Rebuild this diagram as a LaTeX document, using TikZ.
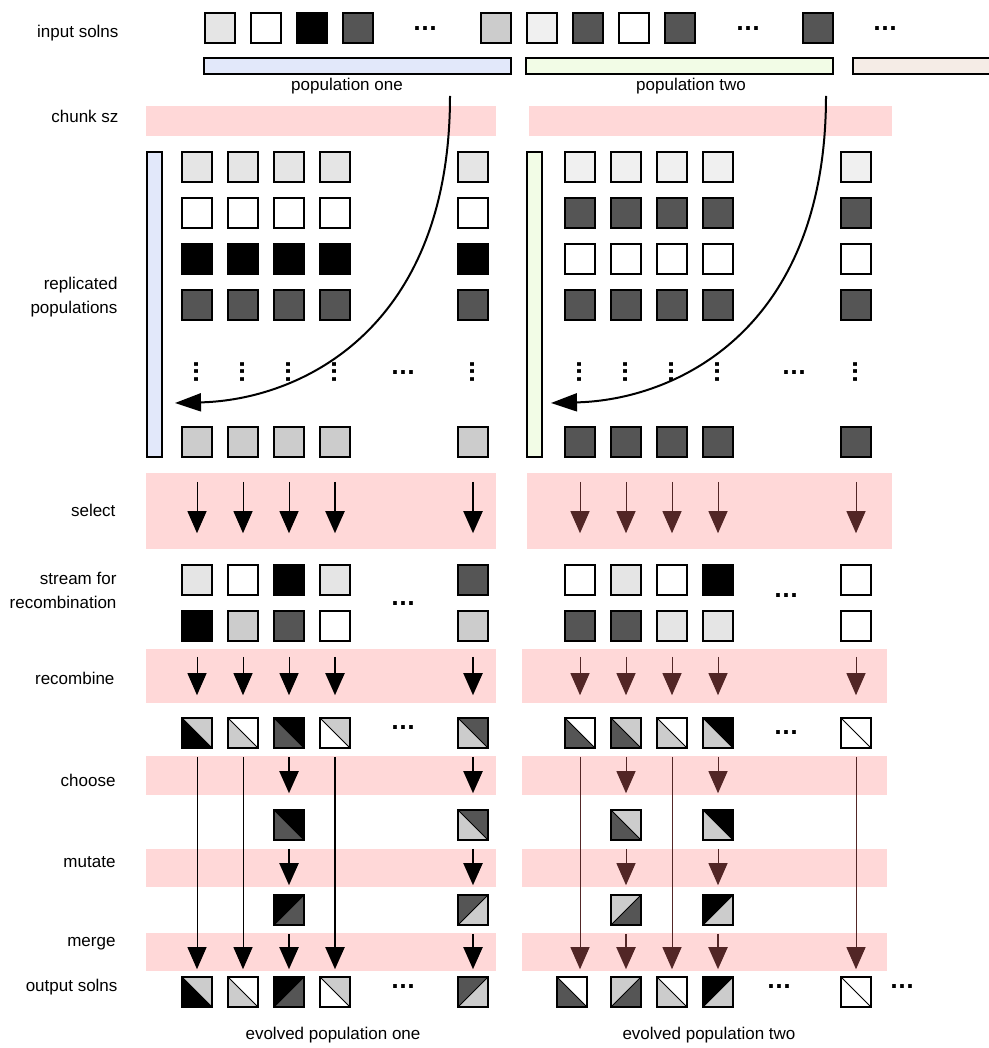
\documentclass[tikz,border=0pt]{standalone}
\usepackage{fontspec}
\setmainfont{Liberation Sans}
\newfontfamily\dotfont{DejaVu Sans}
\usetikzlibrary{arrows.meta}
\definecolor{bandpink}{RGB}{255,216,216}
\definecolor{popone}{RGB}{226,232,250}
\definecolor{poptwo}{RGB}{242,252,230}
\definecolor{popthree}{RGB}{245,236,230}
\definecolor{gA}{gray}{0.9}
\definecolor{gB}{gray}{0.8}
\definecolor{gC}{gray}{0.333}
\definecolor{gD}{gray}{0.94}
\definecolor{brn}{RGB}{82,38,38}

\begin{document}
\begin{tikzpicture}[x=1pt,y=-1pt,
  sq/.style={draw=black,line width=1.6pt,minimum size=30pt,inner sep=0pt},
  hb/.style 2 args={sq,fill=#2,path picture={
      \fill[#1] (path picture bounding box.north west) -- (path picture bounding box.south east)
        -- (path picture bounding box.south west) -- cycle;
      \draw[line width=1pt] (path picture bounding box.north west) -- (path picture bounding box.south east);}},
  hf/.style 2 args={sq,fill=#2,path picture={
      \fill[#1] (path picture bounding box.south west) -- (path picture bounding box.north east)
        -- (path picture bounding box.north west) -- cycle;
      \draw[line width=1pt] (path picture bounding box.south west) -- (path picture bounding box.north east);}},
  lab/.style={anchor=east,align=right,font=\fontsize{17}{24}\selectfont},
  txt/.style={font=\fontsize{17}{22}\selectfont},
  dots/.style={inner sep=0pt,font=\dotfont\bfseries\fontsize{21}{21}\selectfont},
  bar/.style={draw=black,line width=1.6pt},
  ar/.style={-{Triangle[width=19pt,length=22pt]},line width=1pt},
  arw/.style={ar,line width=2pt},
  arb/.style={ar,color=brn},
  cur/.style={-{Triangle[width=18pt,length=26pt]},line width=2pt}]
  \useasboundingbox (0,0) rectangle (988,1048);
  % pink bands behind each step
  \foreach \ya/\yb in {106/136,473/549,649/703,756/795,849/887,933/971}
    \fill[bandpink] (146,\ya) rectangle (496,\yb);
  \fill[bandpink] (529,106) rectangle (892,136);
  \fill[bandpink] (527,473) rectangle (892,549);
  \foreach \ya/\yb in {649/703,756/795,849/887,933/971}
    \fill[bandpink] (522,\ya) rectangle (887,\yb);
  % row labels
  \node[lab] (lin) at (122,33)  {input solns};
  \node[lab] (lch) at (122,116) {chunk sz};
  \node[lab] (lre) at (121,297) {replicated\\populations};
  \node[lab] (lse) at (119,510) {select};
  \node[lab] (lst) at (120,590) {stream for\\recombination};
  \node[lab] (lrc) at (118,678) {recombine};
  \node[lab] (lcs) at (119,780) {choose};
  \node[lab] (lmu) at (119,862) {mutate};
  \node[lab] (lme) at (119,944) {merge};
  \node[lab] (lou) at (121,987) {output solns};
  % input solutions and populations
  \foreach \x/\c [count=\i] in {220/gA,266/white,312/black,358/gC,496/gB,542/gD,588/gC,634/white,680/gC,818/gC}
    \node[sq,fill=\c] (in\i) at (\x,28) {};
  \node[dots] (id1) at (425,29) {...};
  \node[dots] (id2) at (748,29) {...};
  \node[dots] (id3) at (885,29) {...};
  \draw[bar,fill=popone] (204,58) rectangle (511,74);
  \draw[bar,fill=poptwo] (526,58) rectangle (833,74);
  \draw[bar,fill=popthree] (853,58) rectangle (1000,74);
  \node[txt] (pone) at (347,86) {population one};
  \node[txt] (ptwo) at (691,86) {population two};
  % replicated populations
  \draw[bar,fill=popone] (147,152) rectangle (162,457);
  \draw[bar,fill=poptwo] (527,152) rectangle (542,457);
  \foreach \c/\d [count=\i] in {gA/gD,white/gC,black/white,gC/gC} {
    \foreach \x [count=\j] in {197,243,289,335,473}
      \node[sq,fill=\c] (L\i\j) at (\x,{121+46*\i}) {};
    \foreach \x [count=\j] in {580,626,672,718,856}
      \node[sq,fill=\d] (R\i\j) at (\x,{121+46*\i}) {};
  }
  \foreach \x [count=\j] in {197,243,289,335,473} {
    \node[sq,fill=gB] (L5\j) at (\x,442) {};
    \node[dots,rotate=90] at (\x,372) {...};
  }
  \foreach \x [count=\j] in {580,626,672,718,856} {
    \node[sq,fill=gC] (R5\j) at (\x,442) {};
    \node[dots,rotate=90] at (\x,372) {...};
  }
  \node[dots] at (403,373) {...};
  \node[dots] at (794,373) {...};
  \coordinate (k1) at (450,96);
  \coordinate (t1) at (175,403);
  \coordinate (k2) at (826,96);
  \coordinate (t2) at (551,403);
  \draw[cur] (k1) .. controls (450,330) and (300,400) .. (t1);
  \draw[cur] (k2) .. controls (826,330) and (676,400) .. (t2);
  % streams for recombination
  \foreach \x/\c/\d [count=\j] in {197/gA/black,243/white/gB,289/black/gC,335/gA/white,473/gC/gB} {
    \node[sq,fill=\c] (LS1\j) at (\x,580) {};
    \node[sq,fill=\d] (LS2\j) at (\x,626) {};
  }
  \foreach \x/\c/\d [count=\j] in {580/white/gC,626/gA/gC,672/white/gA,718/black/gA,856/white/white} {
    \node[sq,fill=\c] (RS1\j) at (\x,580) {};
    \node[sq,fill=\d] (RS2\j) at (\x,626) {};
  }
  \node[dots] at (403,604) {...};
  \node[dots] at (786,596) {...};
  % recombined
  \foreach \x/\c/\d [count=\j] in {197/black/gB,243/gB/white,289/gC/black,335/white/gB,473/gB/gC}
    \node[hb={\c}{\d}] (LC\j) at (\x,733) {};
  \foreach \x/\c/\d [count=\j] in {580/gC/white,626/gC/gB,672/gB/white,718/gB/black,856/white/white}
    \node[hb={\c}{\d}] (RC\j) at (\x,733) {};
  \node[dots] at (403,728) {...};
  \node[dots] at (786,733) {...};
  % chosen and mutated
  \node[hb={gC}{black}] (LM3) at (289,825) {};
  \node[hb={gB}{gC}]    (LM5) at (473,825) {};
  \node[hf={black}{gC}] (LN3) at (289,910) {};
  \node[hf={gC}{gB}]    (LN5) at (473,910) {};
  \node[hb={gC}{gB}]    (RM2) at (626,825) {};
  \node[hb={gB}{black}] (RM4) at (718,825) {};
  \node[hf={gB}{gC}]    (RN2) at (626,910) {};
  \node[hf={black}{gB}] (RN4) at (718,910) {};
  % output solutions
  \node[hb={black}{gB}] (LO1) at (197,992) {};
  \node[hb={gB}{white}] (LO2) at (243,992) {};
  \node[hf={black}{gC}] (LO3) at (289,992) {};
  \node[hb={white}{gB}] (LO4) at (335,992) {};
  \node[hf={gC}{gB}]    (LO5) at (473,992) {};
  \node[hb={gC}{white}] (RO1) at (572,992) {};
  \node[hf={gB}{gC}]    (RO2) at (626,992) {};
  \node[hb={gB}{white}] (RO3) at (672,992) {};
  \node[hf={black}{gB}] (RO4) at (718,992) {};
  \node[hb={white}{white}] (RO5) at (856,992) {};
  \node[dots] at (403,987) {...};
  \node[dots] at (779,987) {...};
  \node[dots] at (902,987) {...};
  \node[txt] (eone) at (333,1035) {evolved population one};
  \node[txt] (etwo) at (709,1035) {evolved population two};
  % arrows
  \foreach \j in {1,2,3} {
    \draw[ar,shorten <=24pt,shorten >=31pt] (L5\j) -- (LS1\j);
    \draw[ar,shorten <=15pt,shorten >=22pt] (LS2\j) -- (LC\j);
  }
  \foreach \j in {4,5} {
    \draw[arw,shorten <=24pt,shorten >=31pt] (L5\j) -- (LS1\j);
    \draw[arw,shorten <=15pt,shorten >=22pt] (LS2\j) -- (LC\j);
  }
  \foreach \j in {1,...,5} {
    \draw[arb,shorten <=24pt,shorten >=31pt] (R5\j) -- (RS1\j);
    \draw[arb,shorten <=15pt,shorten >=22pt] (RS2\j) -- (RC\j);
  }
  \foreach \j in {3,5} {
    \draw[arw,shorten <=8pt,shorten >=16pt] (LC\j) -- (LM\j);
    \draw[arw,shorten <=8pt,shorten >=9pt] (LM\j) -- (LN\j);
    \draw[arw,shorten <=8pt,shorten >=7pt] (LN\j) -- (LO\j);
  }
  \foreach \j in {2,4} {
    \draw[arb,shorten <=8pt,shorten >=16pt] (RC\j) -- (RM\j);
    \draw[arb,shorten <=8pt,shorten >=9pt] (RM\j) -- (RN\j);
    \draw[arb,line width=2pt,shorten <=8pt,shorten >=7pt] (RN\j) -- (RO\j);
  }
  \foreach \j in {1,2}
    \draw[ar,shorten <=8pt,shorten >=7pt] (LC\j) -- (LO\j);
  \draw[arw,shorten <=8pt,shorten >=7pt] (LC4) -- (LO4);
  \foreach \j in {1,3,5}
    \draw[arb,shorten <=8pt,shorten >=7pt] (RC\j.south) -- (RC\j |- RO\j.north);
\end{tikzpicture}
\end{document}
